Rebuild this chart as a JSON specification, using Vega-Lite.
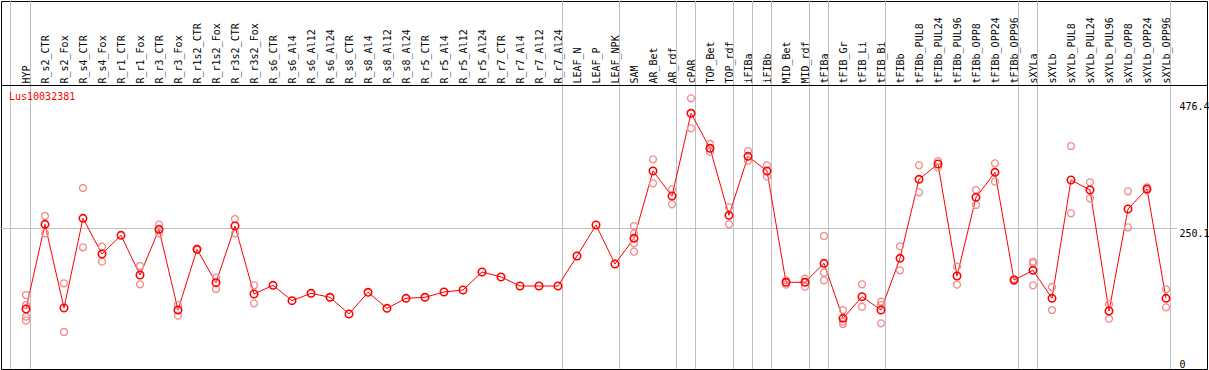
{
  "$schema": "https://vega.github.io/schema/vega-lite/v6.json",
  "autosize": {"type": "none"},
  "padding": {"left": 1, "top": 1, "right": 2, "bottom": 1},
  "width": 1206,
  "height": 368,
  "background": "white",
  "config": {
    "view": {"stroke": "black", "strokeWidth": 1},
    "font": "DejaVu Sans Mono"
  },
  "datasets": {
    "means": [
      {"sample": "HYP", "value": 106.8},
      {"sample": "R_s2_CTR", "value": 257.5},
      {"sample": "R_s2_Fox", "value": 108.6},
      {"sample": "R_s4_CTR", "value": 268.2},
      {"sample": "R_s4_Fox", "value": 204.7},
      {"sample": "R_r1_CTR", "value": 237.9},
      {"sample": "R_r1_Fox", "value": 167.3},
      {"sample": "R_r3_CTR", "value": 248.6},
      {"sample": "R_r3_Fox", "value": 105.0},
      {"sample": "R_r1s2_CTR", "value": 213.0},
      {"sample": "R_r1s2_Fox", "value": 153.7},
      {"sample": "R_r3s2_CTR", "value": 254.5},
      {"sample": "R_r3s2_Fox", "value": 133.5},
      {"sample": "R_s6_CTR", "value": 148.9},
      {"sample": "R_s6_Al4", "value": 121.6},
      {"sample": "R_s6_Al12", "value": 134.7},
      {"sample": "R_s6_Al24", "value": 127.6},
      {"sample": "R_s8_CTR", "value": 97.9},
      {"sample": "R_s8_Al4", "value": 136.5},
      {"sample": "R_s8_Al12", "value": 108.0},
      {"sample": "R_s8_Al24", "value": 125.8},
      {"sample": "R_r5_CTR", "value": 127.6},
      {"sample": "R_r5_Al4", "value": 137.1},
      {"sample": "R_r5_Al12", "value": 140.6},
      {"sample": "R_r5_Al24", "value": 172.7},
      {"sample": "R_r7_CTR", "value": 163.8},
      {"sample": "R_r7_Al4", "value": 147.7},
      {"sample": "R_r7_Al12", "value": 147.7},
      {"sample": "R_r7_Al24", "value": 147.7},
      {"sample": "LEAF_N", "value": 201.1},
      {"sample": "LEAF_P", "value": 256.3},
      {"sample": "LEAF_NPK", "value": 186.9},
      {"sample": "SAM", "value": 232.6},
      {"sample": "AR_Bet", "value": 352.4},
      {"sample": "AR_rdf", "value": 307.9},
      {"sample": "cPAR", "value": 455.1},
      {"sample": "TOP_Bet", "value": 392.8},
      {"sample": "TOP_rdf", "value": 273.5},
      {"sample": "iFIBa", "value": 378.5},
      {"sample": "iFIBb", "value": 352.4},
      {"sample": "MID_Bet", "value": 154.3},
      {"sample": "MID_rdf", "value": 154.3},
      {"sample": "tFIBa", "value": 188.1},
      {"sample": "tFIB_Gr", "value": 90.2},
      {"sample": "tFIB_Li", "value": 128.7},
      {"sample": "tFIB_Bi", "value": 105.0},
      {"sample": "tFIBb", "value": 197.0},
      {"sample": "tFIBb_PUL8", "value": 337.6},
      {"sample": "tFIBb_PUL24", "value": 364.9},
      {"sample": "tFIBb_PUL96", "value": 165.5},
      {"sample": "tFIBb_OPP8", "value": 305.5},
      {"sample": "tFIBb_OPP24", "value": 350.0},
      {"sample": "tFIBb_OPP96", "value": 158.4},
      {"sample": "sXYLa", "value": 175.6},
      {"sample": "sXYLb", "value": 125.8},
      {"sample": "sXYLb_PUL8", "value": 336.4},
      {"sample": "sXYLb_PUL24", "value": 318.6},
      {"sample": "sXYLb_PUL96", "value": 103.2},
      {"sample": "sXYLb_OPP8", "value": 284.8},
      {"sample": "sXYLb_OPP24", "value": 320.4},
      {"sample": "sXYLb_OPP96", "value": 125.8}
    ],
    "reps": [
      {"sample": "HYP", "value": 131.7}, {"sample": "HYP", "value": 113.9}, {"sample": "HYP", "value": 93.2}, {"sample": "HYP", "value": 86.0},
      {"sample": "R_s2_CTR", "value": 272.3}, {"sample": "R_s2_CTR", "value": 241.5},
      {"sample": "R_s2_Fox", "value": 152.5}, {"sample": "R_s2_Fox", "value": 65.9},
      {"sample": "R_s4_CTR", "value": 322.2}, {"sample": "R_s4_CTR", "value": 216.6},
      {"sample": "R_s4_Fox", "value": 217.7}, {"sample": "R_s4_Fox", "value": 191.0},
      {"sample": "R_r1_Fox", "value": 183.3}, {"sample": "R_r1_Fox", "value": 150.7},
      {"sample": "R_r3_CTR", "value": 256.9}, {"sample": "R_r3_CTR", "value": 241.5},
      {"sample": "R_r3_Fox", "value": 113.9}, {"sample": "R_r3_Fox", "value": 94.9},
      {"sample": "R_r1s2_CTR", "value": 214.0}, {"sample": "R_r1s2_CTR", "value": 212.0},
      {"sample": "R_r1s2_Fox", "value": 162.6}, {"sample": "R_r1s2_Fox", "value": 142.4},
      {"sample": "R_r3s2_CTR", "value": 267.0}, {"sample": "R_r3s2_CTR", "value": 241.5},
      {"sample": "R_r3s2_Fox", "value": 148.9}, {"sample": "R_r3s2_Fox", "value": 116.9},
      {"sample": "SAM", "value": 254.5}, {"sample": "SAM", "value": 241.5}, {"sample": "SAM", "value": 223.7}, {"sample": "SAM", "value": 208.8},
      {"sample": "AR_Bet", "value": 373.2}, {"sample": "AR_Bet", "value": 330.5},
      {"sample": "AR_rdf", "value": 319.8}, {"sample": "AR_rdf", "value": 293.1},
      {"sample": "cPAR", "value": 481.8}, {"sample": "cPAR", "value": 428.4},
      {"sample": "TOP_Bet", "value": 400.5}, {"sample": "TOP_Bet", "value": 386.8},
      {"sample": "TOP_rdf", "value": 287.8}, {"sample": "TOP_rdf", "value": 257.5},
      {"sample": "iFIBa", "value": 388.0}, {"sample": "iFIBa", "value": 370.8},
      {"sample": "iFIBb", "value": 362.5}, {"sample": "iFIBb", "value": 342.3},
      {"sample": "MID_Bet", "value": 157.8}, {"sample": "MID_Bet", "value": 150.1},
      {"sample": "MID_rdf", "value": 160.8}, {"sample": "MID_rdf", "value": 146.5},
      {"sample": "tFIBa", "value": 236.7}, {"sample": "tFIBa", "value": 171.5}, {"sample": "tFIBa", "value": 157.8},
      {"sample": "tFIB_Gr", "value": 105.0}, {"sample": "tFIB_Gr", "value": 84.2}, {"sample": "tFIB_Gr", "value": 80.1},
      {"sample": "tFIB_Li", "value": 150.7}, {"sample": "tFIB_Li", "value": 110.9},
      {"sample": "tFIB_Bi", "value": 119.8}, {"sample": "tFIB_Bi", "value": 113.9}, {"sample": "tFIB_Bi", "value": 81.3},
      {"sample": "tFIBb", "value": 218.3}, {"sample": "tFIBb", "value": 175.6},
      {"sample": "tFIBb_PUL8", "value": 362.5}, {"sample": "tFIBb_PUL8", "value": 314.5},
      {"sample": "tFIBb_PUL24", "value": 370.2}, {"sample": "tFIBb_PUL24", "value": 358.9},
      {"sample": "tFIBb_PUL96", "value": 182.1}, {"sample": "tFIBb_PUL96", "value": 150.1},
      {"sample": "tFIBb_OPP8", "value": 318.6}, {"sample": "tFIBb_OPP8", "value": 291.9},
      {"sample": "tFIBb_OPP24", "value": 366.1}, {"sample": "tFIBb_OPP24", "value": 333.4},
      {"sample": "tFIBb_OPP96", "value": 160.0}, {"sample": "tFIBb_OPP96", "value": 157.0},
      {"sample": "sXYLa", "value": 191.0}, {"sample": "sXYLa", "value": 188.1}, {"sample": "sXYLa", "value": 148.9},
      {"sample": "sXYLb", "value": 146.0}, {"sample": "sXYLb", "value": 105.0},
      {"sample": "sXYLb_PUL8", "value": 396.9}, {"sample": "sXYLb_PUL8", "value": 277.1},
      {"sample": "sXYLb_PUL24", "value": 332.2}, {"sample": "sXYLb_PUL24", "value": 303.8},
      {"sample": "sXYLb_PUL96", "value": 115.1}, {"sample": "sXYLb_PUL96", "value": 89.6},
      {"sample": "sXYLb_OPP8", "value": 316.2}, {"sample": "sXYLb_OPP8", "value": 252.2},
      {"sample": "sXYLb_OPP24", "value": 323.3}, {"sample": "sXYLb_OPP24", "value": 318.0},
      {"sample": "sXYLb_OPP96", "value": 141.8}, {"sample": "sXYLb_OPP96", "value": 109.8}
    ],
    "seps": [
      {"sample": "HYP"}, {"sample": "R_r7_Al24"}, {"sample": "LEAF_NPK"}, {"sample": "AR_rdf"},
      {"sample": "cPAR"}, {"sample": "TOP_rdf"}, {"sample": "iFIBa"}, {"sample": "iFIBb"},
      {"sample": "MID_rdf"}, {"sample": "tFIBa"}, {"sample": "tFIB_Bi"}, {"sample": "tFIBb_OPP96"},
      {"sample": "sXYLa"}, {"sample": "sXYLb_OPP96"}
    ],
    "gene": [{"name": "Lus10032381"}]
  },
  "layer": [
    {
      "data": {"name": "means"},
      "mark": {"type": "point", "shape": "circle", "filled": false, "size": 55, "strokeWidth": 1.6, "color": "#ff0000", "opacity": 0},
      "encoding": {
        "x": {"field": "sample", "type": "nominal", "sort": null,
          "scale": {"type": "point", "padding": 0, "range": [25, 1165],
            "domain": ["HYP","R_s2_CTR","R_s2_Fox","R_s4_CTR","R_s4_Fox","R_r1_CTR","R_r1_Fox","R_r3_CTR","R_r3_Fox","R_r1s2_CTR","R_r1s2_Fox","R_r3s2_CTR","R_r3s2_Fox","R_s6_CTR","R_s6_Al4","R_s6_Al12","R_s6_Al24","R_s8_CTR","R_s8_Al4","R_s8_Al12","R_s8_Al24","R_r5_CTR","R_r5_Al4","R_r5_Al12","R_r5_Al24","R_r7_CTR","R_r7_Al4","R_r7_Al12","R_r7_Al24","LEAF_N","LEAF_P","LEAF_NPK","SAM","AR_Bet","AR_rdf","cPAR","TOP_Bet","TOP_rdf","iFIBa","iFIBb","MID_Bet","MID_rdf","tFIBa","tFIB_Gr","tFIB_Li","tFIB_Bi","tFIBb","tFIBb_PUL8","tFIBb_PUL24","tFIBb_PUL96","tFIBb_OPP8","tFIBb_OPP24","tFIBb_OPP96","sXYLa","sXYLb","sXYLb_PUL8","sXYLb_PUL24","sXYLb_PUL96","sXYLb_OPP8","sXYLb_OPP24","sXYLb_OPP96"]},
          "axis": {"orient": "top", "title": null, "domain": false, "ticks": false, "tickSize": 0, "grid": false,
            "labelAngle": -90, "labelAlign": "left", "labelBaseline": "middle", "labelPadding": -82,
            "labelFont": "DejaVu Sans Mono", "labelFontSize": 10, "labelColor": "black",
            "labelOverlap": false, "labelBound": false, "labelFlush": false}},
        "y": {"field": "value", "type": "quantitative",
          "scale": {"domain": [0, 655], "nice": false, "zero": true},
          "axis": {"orient": "right", "title": null, "domain": false, "ticks": false, "tickSize": 0, "grid": false,
            "values": [0, 250.1, 476.4], "format": ".1~f",
            "labelAlign": "left", "labelPadding": -28,
            "labelBaseline": {"condition": {"test": "datum.value === 0", "value": "bottom"}, "value": "top"},
            "labelFont": "DejaVu Sans Mono", "labelFontSize": 10, "labelColor": "black",
            "labelOverlap": false, "labelBound": false, "labelFlush": false}}
      }
    },
    {
      "data": {"name": "seps"},
      "mark": {"type": "rule", "color": "#c0c0c0", "strokeWidth": 1, "xOffset": 4.5},
      "encoding": {
        "x": {"field": "sample", "type": "nominal"}
      }
    },
    {
      "data": {"name": "gene"},
      "mark": {"type": "rule", "color": "#c0c0c0", "strokeWidth": 1, "xOffset": -15.5},
      "encoding": {
        "x": {"datum": "HYP", "type": "nominal"}
      }
    },
    {
      "data": {"name": "gene"},
      "mark": {"type": "rule", "color": "#c0c0c0", "strokeWidth": 1, "xOffset": -25, "x2Offset": 11},
      "encoding": {
        "x": {"datum": "HYP", "type": "nominal"},
        "x2": {"datum": "sXYLb_OPP96"},
        "y": {"datum": 250.1, "type": "quantitative"}
      }
    },
    {
      "data": {"name": "gene"},
      "mark": {"type": "rule", "color": "black", "strokeWidth": 1},
      "encoding": {
        "y": {"datum": 504.6, "type": "quantitative"}
      }
    },
    {
      "data": {"name": "means"},
      "mark": {"type": "line", "color": "#ff0000", "strokeWidth": 1},
      "encoding": {
        "x": {"field": "sample", "type": "nominal"},
        "y": {"field": "value", "type": "quantitative"}
      }
    },
    {
      "data": {"name": "reps"},
      "mark": {"type": "point", "shape": "circle", "filled": false, "size": 48, "strokeWidth": 1.3, "color": "#f08c8c", "opacity": 1},
      "encoding": {
        "x": {"field": "sample", "type": "nominal"},
        "y": {"field": "value", "type": "quantitative"}
      }
    },
    {
      "data": {"name": "means"},
      "mark": {"type": "point", "shape": "circle", "filled": false, "size": 55, "strokeWidth": 1.6, "color": "#ff0000", "opacity": 1},
      "encoding": {
        "x": {"field": "sample", "type": "nominal"},
        "y": {"field": "value", "type": "quantitative"}
      }
    },
    {
      "data": {"name": "gene"},
      "mark": {"type": "text", "align": "left", "baseline": "middle", "dx": -17, "font": "DejaVu Sans Mono", "fontSize": 10, "color": "#ff0000"},
      "encoding": {
        "x": {"datum": "HYP", "type": "nominal"},
        "y": {"datum": 484.2, "type": "quantitative"},
        "text": {"field": "name"}
      }
    }
  ]
}
